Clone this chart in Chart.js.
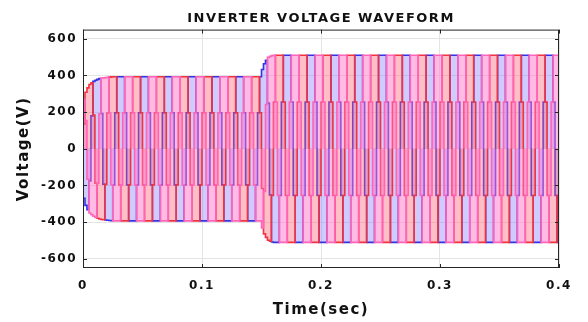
<!DOCTYPE html>
<html>
<head>
<meta charset="utf-8">
<script src="https://cdn.jsdelivr.net/npm/chart.js@4.4.1/dist/chart.umd.min.js"></script>
<style>
html,body{margin:0;padding:0;background:#fff;}
canvas{display:block;}
</style>
</head>
<body>
<canvas id="c" width="588" height="322"></canvas>
<script>
// ---- values ----
const chartTitle = 'INVERTER VOLTAGE WAVEFORM';
const xTicks = [0, 0.1, 0.2, 0.3, 0.4];
const xTickLabels = ['0', '0.1', '0.2', '0.3', '0.4'];
const yTicks = [-600, -400, -200, 0, 200, 400, 600];
const yTickLabels = ['-600', '-400', '-200', '0', '200', '400', '600'];
const fundamentalPeriod = 0.02;            // 50 Hz, ~20 cycles over 0.4 s
// staircase pattern per 30-degree sector (fraction of outer step voltage)
const stepLevels = [0.5, 1, 1, 1, 1, 0.5, -0.5, -1, -1, -1, -1, -0.5];
const phaseNames = ['Va', 'Vb', 'Vc'];
const phaseSectorShift = [0, 4, 8];         // 0, 120, 240 degrees
// outer step voltage envelope readings, time (s) / volts
const envTime = [0, 0.003, 0.006, 0.01, 0.015, 0.025, 0.15, 0.151, 0.153, 0.156, 0.16, 0.4];
const envPeak = [250, 320, 352, 372, 385, 393, 393, 440, 472, 500, 510, 510];
const endTime = 0.4;

function peakAt(t) {
  for (let i = 1; i < envTime.length; i++) {
    if (t <= envTime[i]) {
      const f = (t - envTime[i - 1]) / (envTime[i] - envTime[i - 1]);
      return envPeak[i - 1] + f * (envPeak[i] - envPeak[i - 1]);
    }
  }
  return envPeak[envPeak.length - 1];
}

function phaseData(shift) {
  const pts = [];
  const m = stepLevels.length;
  const dt = fundamentalPeriod / m;
  const n = Math.round(endTime / dt);
  for (let k = 0; k < n; k++) {
    const t0 = k * dt, t1 = (k + 1) * dt;
    const lvl = stepLevels[((k - shift) % m + m) % m] * peakAt((t0 + t1) / 2);
    pts.push({x: t0, y: lvl});
    pts.push({x: t1, y: lvl});
  }
  return pts;
}

const lineColors = ['rgba(240,50,65,1)', 'rgba(50,50,232,1)', 'rgba(255,100,185,1)'];
const fillColors = ['rgba(252,95,115,0.40)', 'rgba(125,110,250,0.36)', 'rgba(255,120,200,0.50)'];
const drawOrder = [2, 0, 1];

const datasets = drawOrder.map(i => ({
  label: phaseNames[i],
  data: phaseData(phaseSectorShift[i]),
  borderColor: lineColors[i],
  backgroundColor: fillColors[i],
  borderWidth: 1.6,
  pointRadius: 0,
  tension: 0,
  fill: 'origin'
}));

const spacingPlugin = {
  id: 'spacing',
  beforeLayout(chart) { chart.ctx.letterSpacing = '1.5px'; },
  beforeDraw(chart) { chart.ctx.letterSpacing = '1.5px'; }
};

const boxPlugin = {
  id: 'box',
  afterDatasetsDraw(chart) {
    const {ctx, chartArea: a, scales} = chart;
    ctx.save();
    ctx.strokeStyle = '#262626';
    ctx.lineWidth = 1;
    ctx.strokeRect(a.left + 0.5, a.top + 0.5, a.right - a.left - 1, a.bottom - a.top - 1);
    const L = 4;
    ctx.beginPath();
    xTicks.forEach(v => {
      const x = Math.round(scales.x.getPixelForValue(v)) + 0.5;
      ctx.moveTo(x, a.bottom); ctx.lineTo(x, a.bottom - L);
      ctx.moveTo(x, a.top); ctx.lineTo(x, a.top + L);
    });
    yTicks.forEach(v => {
      const y = Math.round(scales.y.getPixelForValue(v)) + 0.5;
      ctx.moveTo(a.left, y); ctx.lineTo(a.left + L, y);
      ctx.moveTo(a.right, y); ctx.lineTo(a.right - L, y);
    });
    ctx.stroke();
    ctx.restore();
  }
};

const tickFont = {family: 'DejaVu Sans', weight: 'bold', size: 12};
const titleFont = {family: 'DejaVu Sans', weight: 'bold', size: 15};

new Chart(document.getElementById('c'), {
  type: 'line',
  data: {datasets},
  options: {
    responsive: false,
    animation: false,
    layout: {padding: {left: 0, right: 29, top: 0, bottom: 0}},
    plugins: {
      legend: {display: false},
      tooltip: {enabled: false},
      title: {
        display: true,
        text: chartTitle,
        fullSize: false,
        color: '#111',
        font: {family: 'DejaVu Sans', weight: 'bold', size: 13},
        padding: {top: 11, bottom: 3}
      }
    },
    scales: {
      x: {
        type: 'linear',
        min: 0, max: 0.4,
        afterBuildTicks: s => { s.ticks = xTicks.map(v => ({value: v})); },
        afterFit: s => { s.height = 54; },
        border: {display: false},
        grid: {color: '#e4e4e4', drawTicks: false},
        ticks: {
          padding: 11, color: '#111', font: tickFont, maxRotation: 0,
          callback: (v) => { const i = xTicks.findIndex(t => Math.abs(t - v) < 1e-9); return i >= 0 ? xTickLabels[i] : ''; }
        },
        title: {display: true, text: 'Time(sec)', color: '#111', font: titleFont, padding: {top: 0, bottom: 3}}
      },
      y: {
        min: -650, max: 650,
        afterBuildTicks: s => { s.ticks = yTicks.map(v => ({value: v})); },
        afterFit: s => { s.width = 83; },
        border: {display: false},
        grid: {color: '#e4e4e4', drawTicks: false},
        ticks: {
          padding: 6, color: '#111', font: tickFont,
          callback: (v) => { const i = yTicks.indexOf(v); return i >= 0 ? yTickLabels[i] : ''; }
        },
        title: {display: true, text: 'Voltage(V)', color: '#111', font: titleFont, padding: {top: 15, bottom: 0}}
      }
    }
  },
  plugins: [spacingPlugin, boxPlugin]
});
</script>
</body>
</html>
